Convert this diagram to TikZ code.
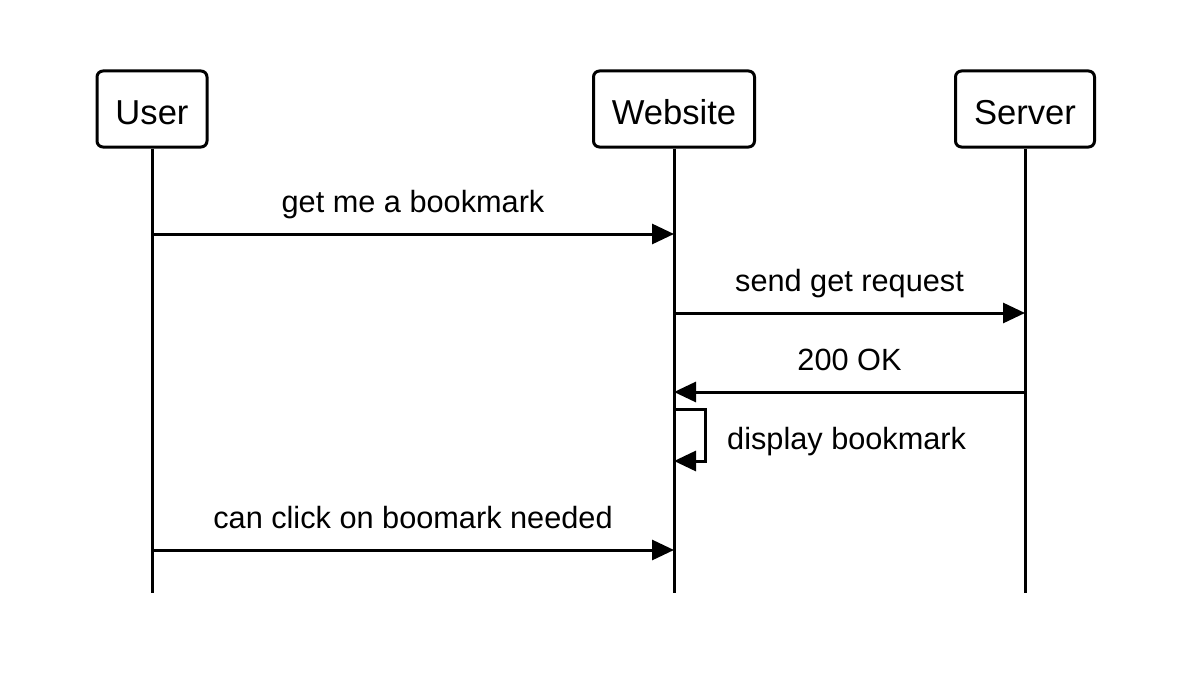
\documentclass[tikz,border=0pt]{standalone}
\usepackage{fontspec}
\setmainfont{Liberation Sans}
\usetikzlibrary{arrows.meta}
\begin{document}
\begin{tikzpicture}[x=1pt,y=-1pt,
  actor/.style={draw,line width=3pt,rounded corners=6pt,
    font=\fontsize{34.6}{40}\selectfont,text height=31pt,text depth=0pt,inner sep=0pt,
    minimum height=76pt},
  life/.style={line width=3pt},
  msg/.style={line width=3pt,-{Triangle[length=22pt,width=20pt]}},
  lbl/.style={font=\fontsize{30.7}{36}\selectfont,anchor=base,inner sep=0pt}]
\useasboundingbox (0,0) rectangle (1180,698);

% participants
\node[actor,minimum width=110pt] (user) at (152,109) {User};
\node[actor,minimum width=161pt] (web) at (674,109) {Website};
\node[actor,minimum width=139pt] (srv) at (1025,109) {Server};

% lifeline ends
\coordinate (userEnd) at (152,593);
\coordinate (webEnd) at (674,593);
\coordinate (srvEnd) at (1025,593);
\draw[life] (user.south) -- (userEnd);
\draw[life] (web.south) -- (webEnd);
\draw[life] (srv.south) -- (srvEnd);

% message anchors on the lifelines
\coordinate (u1) at (152,234); \coordinate (w1) at (674,234);
\coordinate (w2) at (674,313); \coordinate (s2) at (1025,313);
\coordinate (s3) at (1025,392); \coordinate (w3) at (674,392);
\coordinate (w4a) at (674,409); \coordinate (w4b) at (674,461);
\coordinate (u5) at (152,550); \coordinate (w5) at (674,550);

\draw[msg] (u1) -- (w1);
\node[lbl] (m1) at (413,212) {get me a bookmark};

\draw[msg] (w2) -- (s2);
\node[lbl] (m2) at (849.5,291) {send get request};

\draw[msg] (s3) -- (w3);
\node[lbl] (m3) at (849.5,370) {200 OK};

\draw[msg] (w4a) -- (705,409) -- (705,461) -- (w4b);
\node[lbl,anchor=base west] (m4) at (727,449) {display bookmark};

\draw[msg] (u5) -- (w5);
\node[lbl] (m5) at (413,528) {can click on boomark needed};
\end{tikzpicture}
\end{document}
